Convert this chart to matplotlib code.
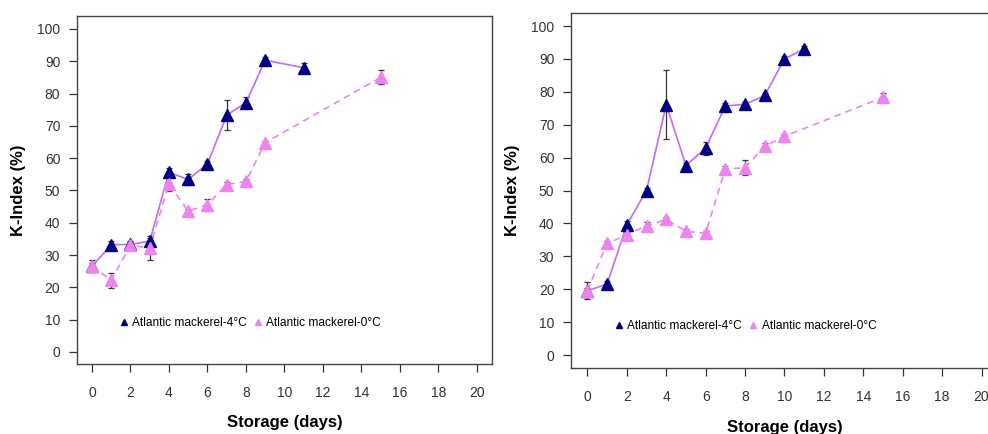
import matplotlib
matplotlib.use("Agg")
import matplotlib.pyplot as plt
import numpy as np

plt.rcParams['font.family'] = ['Liberation Sans', 'DejaVu Sans']

# Left panel
days_4_L = [0, 1, 2, 3, 4, 5, 6, 7, 8, 9, 11]
k_4_L = [26.5, 33.2, 33.3, 34.3, 55.6, 53.4, 58.2, 73.3, 77.2, 90.3, 88.0]
err_4_L = [1.0, 1.0, 1.2, 1.0, 1.4, 1.8, 1.0, 4.7, 1.6, 1.0, 1.5]
days_0_L = [0, 1, 2, 3, 4, 5, 6, 7, 8, 9, 15]
k_0_L = [26.6, 22.2, 33.0, 32.2, 52.1, 43.6, 45.6, 51.8, 52.8, 64.8, 85.0]
err_0_L = [1.9, 2.4, 1.0, 3.8, 2.2, 0.8, 1.9, 0.8, 0.8, 0.5, 2.2]

# Right panel
days_4_R = [0, 1, 2, 3, 4, 5, 6, 7, 8, 9, 10, 11]
k_4_R = [19.5, 21.6, 39.6, 50.0, 76.1, 57.6, 62.9, 75.7, 76.2, 78.9, 90.0, 93.0]
err_4_R = [1.0, 1.0, 1.2, 0.8, 10.5, 0.8, 2.0, 0.8, 0.8, 0.8, 0.8, 0.8]
days_0_R = [0, 1, 2, 3, 4, 5, 6, 7, 8, 9, 10, 15]
k_0_R = [19.6, 33.9, 36.5, 39.3, 41.2, 37.6, 37.0, 56.6, 56.9, 63.5, 66.5, 78.3]
err_0_R = [2.6, 0.8, 1.0, 1.0, 0.8, 0.8, 0.8, 0.8, 2.3, 0.8, 0.8, 1.2]

labels = ["Atlantic mackerel-4\u00b0C", "Atlantic mackerel-0\u00b0C"]
x_ticks = list(range(0, 21, 2))
y_ticks = list(range(0, 101, 10))

NAVY = "#000080"
LINE4 = "#c06cf6"
PINK = "#ee82ee"

fig = plt.figure(figsize=(9.88, 4.34), dpi=100)

def panel(rect, xlim, ylim, d4, k4, e4, d0, k0, e0):
    ax = fig.add_axes(rect)
    ax.errorbar(d4, k4, yerr=e4, fmt='none', ecolor='#333333', elinewidth=0.9,
                capsize=2, capthick=0.9, zorder=2)
    ax.errorbar(d0, k0, yerr=e0, fmt='none', ecolor='#333333', elinewidth=0.9,
                capsize=2, capthick=0.9, zorder=2)
    ax.plot(d4, k4, '-', color=LINE4, lw=1.2, zorder=3)
    ax.plot(d0, k0, '--', color=PINK, lw=1.2, dashes=(4, 3), zorder=3)
    ax.plot(d4, k4, '^', color=NAVY, ms=8.5, ls='none', zorder=4)
    ax.plot(d0, k0, '^', color=PINK, ms=8.5, ls='none', zorder=5)
    h1, = ax.plot([], [], '^', color=NAVY, ms=4.5, ls='none')
    h2, = ax.plot([], [], '^', color=PINK, ms=4.5, ls='none')
    ax.legend([h1, h2], labels, loc='center left', bbox_to_anchor=(0.085, 0.118),
              ncol=2, frameon=False, fontsize=8.6, handlelength=0.7,
              handletextpad=0.35, columnspacing=0.6, borderpad=0.1)
    ax.set_xlim(*xlim)
    ax.set_ylim(*ylim)
    ax.set_xticks(x_ticks)
    ax.set_yticks(y_ticks)
    ax.tick_params(axis='both', direction='out', length=6, width=0.9,
                   labelsize=10, colors='#333333')
    ax.tick_params(axis='x', pad=10)
    ax.tick_params(axis='y', pad=6)
    for s in ax.spines.values():
        s.set_linewidth(1.0)
        s.set_color('#444444')
    ax.set_xlabel("Storage (days)", fontsize=12, fontweight='bold', labelpad=11)
    ax.set_ylabel("K-Index (%)", fontsize=12, fontweight='bold', labelpad=8)
    return ax

panel([0.0779, 0.1613, 0.420, 0.8018], (-0.78, 20.78), (-3.72, 104.0),
      days_4_L, k_4_L, err_4_L, days_0_L, k_0_L, err_0_L)
panel([0.578, 0.152, 0.432, 0.818], (-0.83, 20.83), (-3.95, 103.95),
      days_4_R, k_4_R, err_4_R, days_0_R, k_0_R, err_0_R)

fig.savefig("out.png", dpi=100)
